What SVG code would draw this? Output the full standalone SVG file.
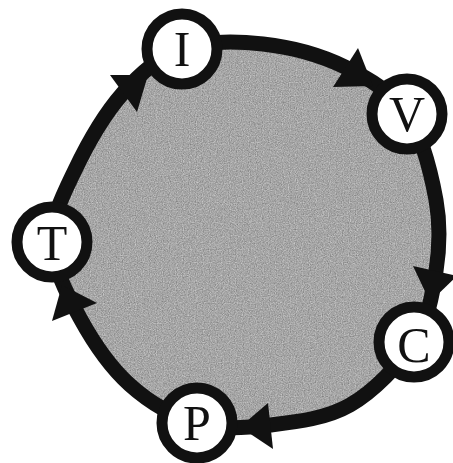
<svg xmlns="http://www.w3.org/2000/svg" width="453" height="463" viewBox="0 0 453 463">
<style>
.ring{fill:none;stroke:#111;stroke-width:15;stroke-linejoin:round}
.head{fill:#111}
.node circle{fill:#fff;stroke:#111;stroke-width:11}
.node text{font-family:"Liberation Serif","Times New Roman",serif;font-size:50px;fill:#111;text-anchor:middle}
</style>
<defs>
<path id="loop" d="M182,49 C205.3,40.8 235.8,41 263,44 C290.2,47 321,55.3 345,67 C369,78.7 391.8,91.8 407,114 C422.2,136.2 431.2,173.8 436,200 C440.8,226.2 439.7,247.3 436,271 C432.3,294.7 428.3,319.7 414,342 C399.7,364.3 374,391.2 350,405 C326,418.8 295.5,422 270,425 C244.5,428 220.3,429.7 197,423 C173.7,416.3 149.5,402.5 130,385 C110.5,367.5 93,341.8 80,318 C67,294.2 52.8,266.7 52,242 C51.2,217.3 63.2,194.8 75,170 C86.8,145.2 105.2,113.2 123,93 C140.8,72.8 158.7,57.2 182,49 Z"/>
<clipPath id="inside"><use href="#loop"/></clipPath>
<filter id="grain" x="0" y="0" width="100%" height="100%" color-interpolation-filters="sRGB">
<feTurbulence type="fractalNoise" baseFrequency="0.85" numOctaves="2" seed="7"/>
<feColorMatrix type="saturate" values="0"/>
<feComponentTransfer>
<feFuncR type="linear" slope="0.5" intercept="0.4"/>
<feFuncG type="linear" slope="0.5" intercept="0.4"/>
<feFuncB type="linear" slope="0.5" intercept="0.4"/>
<feFuncA type="linear" slope="0" intercept="1"/>
</feComponentTransfer>
</filter>
</defs>
<rect width="453" height="463" fill="#fff"/>
<use href="#loop" fill="#a7a7a7"/>
<g clip-path="url(#inside)"><rect width="453" height="463" filter="url(#grain)"/></g>
<g id="connectors">
<use href="#loop" class="ring"/>
<polygon class="head" points="373,86 333,87 358,48"/>
<polygon class="head" points="430,302 413,266 457,276"/>
<polygon class="head" points="240,427 268,403 273,449"/>
<polygon class="head" points="62,285 52,321 97,303"/>
<polygon class="head" points="148,75 110,75 137,112"/>
</g>
<g id="node-I" class="node"><circle cx="182" cy="49" r="35"/><text x="182" y="66">I</text></g>
<g id="node-V" class="node"><circle cx="407" cy="114" r="35"/><text x="407" y="131">V</text></g>
<g id="node-C" class="node"><circle cx="414" cy="342" r="35"/><text x="414" y="362">C</text></g>
<g id="node-P" class="node"><circle cx="197" cy="423" r="35"/><text x="197" y="440">P</text></g>
<g id="node-T" class="node"><circle cx="52" cy="242" r="35"/><text x="52" y="260">T</text></g>
</svg>
